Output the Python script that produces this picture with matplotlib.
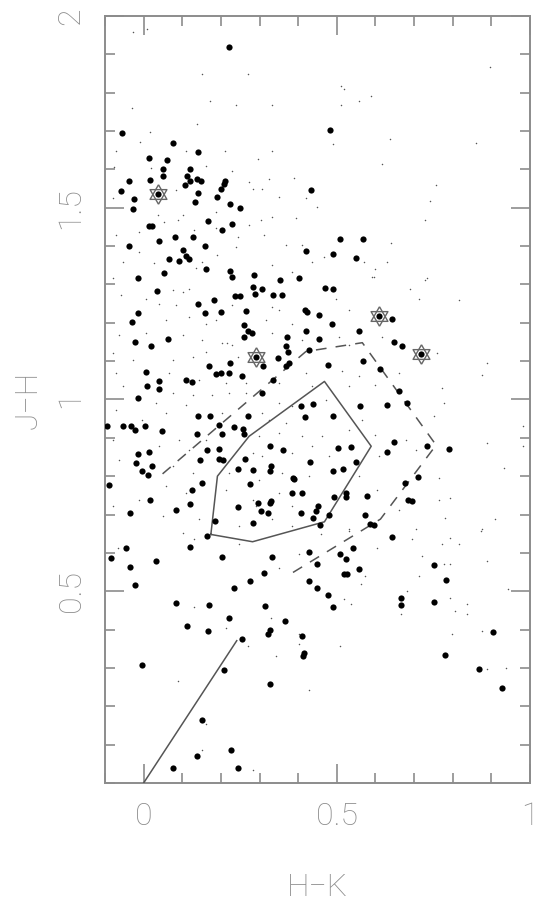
import matplotlib
matplotlib.use('Agg')
import matplotlib.pyplot as plt
from matplotlib.ticker import MultipleLocator, FixedLocator

plt.rcParams['font.family'] = ['Roboto', 'DejaVu Sans']

# big dots (H-K, J-H)
big_hk = [0.220, -0.056, 0.077, 0.141, 0.013, 0.061, 0.050, 0.120, 0.050, 0.111, -0.039, 0.017,
          0.121, 0.138, 0.148, 0.211, 0.209, 0.108, -0.059, 0.140, 0.200, 0.190, -0.025, 0.132,
          0.223, 0.249, -0.028, 0.432, 0.013, 0.022, 0.166, 0.230, 0.202, 0.082, 0.127, 0.040,
          -0.038, 0.160, 0.103, 0.109, 0.118, 0.065, 0.091, 0.421, 0.162, 0.052, 0.224, 0.230,
          0.285, -0.015, 0.353, 0.402,
          0.482, 0.508, 0.568, 0.489, 0.549,
          0.034, 0.284, 0.306, 0.287, 0.181, 0.237, 0.250, 0.334, 0.358, 0.140, -0.015, 0.158,
          0.200, 0.264, 0.418, 0.423, 0.454, -0.031, 0.260, 0.271, 0.281, 0.420, 0.260, -0.022,
          0.019, 0.062, 0.372, 0.368, 0.374, 0.429, 0.455, 0.309, 0.349, 0.368, 0.375, 0.224,
          0.170, 0.188, 0.200, 0.221, 0.255, 0.007, 0.009, 0.040, 0.040, 0.110, 0.125, 0.335,
          0.307, -0.015, 0.408, 0.439, 0.417, 0.140, 0.171, 0.270, -0.096, -0.053, -0.033, -0.022,
          0.004, 0.048, 0.195, 0.233, 0.258, 0.260, 0.203, 0.137, 0.328, 0.361, -0.015, 0.014,
          -0.020, 0.021, -0.004, 0.012, 0.163, 0.195, 0.195, 0.206, 0.146, 0.262, 0.244, 0.282,
          0.330, 0.328, 0.430, 0.387, 0.389, -0.090, 0.152, 0.276, 0.384, 0.410, 0.126, 0.016,
          0.120, 0.085, 0.296, 0.330, 0.326, 0.303, 0.322, 0.243, 0.452, 0.408, 0.446, 0.438,
          0.456, -0.036, 0.185, 0.283, 0.165,
          0.469, 0.489, 0.642, 0.487, 0.558, 0.649, 0.668, 0.478, 0.567, 0.611, 0.660, 0.681,
          0.631, 0.561, 0.489, 0.504, 0.537, 0.550, 0.491, 0.516, 0.649, 0.631, 0.734, 0.790,
          0.709, 0.676, 0.683, 0.694, 0.523, 0.525, 0.579, 0.492, 0.480, 0.574, 0.585, 0.597,
          0.642,
          -0.045, -0.084, 0.119, 0.204, 0.032, 0.333, 0.427, 0.450, -0.036, 0.312, 0.276, 0.234,
          0.427, 0.448, -0.023, 0.084, 0.170, 0.313, 0.221, 0.366, 0.111, 0.167, 0.328, 0.323,
          0.410, 0.254, 0.416, 0.412, -0.003, 0.209, 0.327, 0.152, 0.225, 0.137, 0.075, 0.244,
          0.507, 0.543, 0.525, 0.518, 0.527, 0.558, 0.478, 0.489, 0.667, 0.665, 0.752, 0.782,
          0.751, 0.905, 0.781, 0.867, 0.928]
big_jh = [1.919, 1.694, 1.670, 1.645, 1.630, 1.625, 1.600, 1.600, 1.582, 1.583, 1.569, 1.572,
          1.569, 1.574, 1.569, 1.569, 1.561, 1.560, 1.543, 1.539, 1.549, 1.529, 1.523, 1.514,
          1.510, 1.498, 1.497, 1.547, 1.453, 1.453, 1.465, 1.458, 1.442, 1.423, 1.424, 1.412,
          1.401, 1.399, 1.389, 1.374, 1.367, 1.366, 1.360, 1.388, 1.341, 1.331, 1.336, 1.320,
          1.324, 1.316, 1.312, 1.317,
          1.702, 1.419, 1.419, 1.379, 1.369,
          1.284, 1.293, 1.289, 1.276, 1.260, 1.270, 1.271, 1.272, 1.272, 1.248, 1.225, 1.225,
          1.227, 1.231, 1.232, 1.228, 1.219, 1.203, 1.193, 1.179, 1.174, 1.179, 1.162, 1.151,
          1.140, 1.157, 1.162, 1.139, 1.124, 1.129, 1.158, 1.088, 1.108, 1.087, 1.094, 1.094,
          1.086, 1.066, 1.069, 1.069, 1.062, 1.071, 1.035, 1.047, 1.027, 1.050, 1.045, 1.051,
          1.018, 1.005, 0.982, 0.989, 0.953, 0.958, 0.958, 0.958, 0.932, 0.931, 0.931, 0.920,
          0.932, 0.918, 0.933, 0.928, 0.923, 0.910, 0.910, 0.910, 0.879, 0.869, 0.858, 0.864,
          0.834, 0.826, 0.814, 0.803, 0.868, 0.871, 0.846, 0.841, 0.841, 0.844, 0.819, 0.815,
          0.827, 0.813, 0.838, 0.796, 0.792, 0.778, 0.782, 0.780, 0.756, 0.757, 0.765, 0.739,
          0.728, 0.711, 0.729, 0.736, 0.730, 0.709, 0.704, 0.719, 0.723, 0.704, 0.708, 0.690,
          0.672, 0.704, 0.683, 0.678, 0.644,
          1.290, 1.289, 1.211, 1.198, 1.178, 1.149, 1.139, 1.091, 1.101, 1.080, 1.022, 0.992,
          0.985, 0.984, 0.958, 0.873, 0.876, 0.838, 0.813, 0.818, 0.888, 0.863, 0.879, 0.870,
          0.798, 0.782, 0.737, 0.736, 0.756, 0.745, 0.748, 0.745, 0.698, 0.700, 0.675, 0.672,
          0.642,
          0.613, 0.586, 0.614, 0.589, 0.578, 0.588, 0.601, 0.570, 0.563, 0.548, 0.527, 0.508,
          0.526, 0.508, 0.517, 0.469, 0.465, 0.462, 0.431, 0.423, 0.409, 0.397, 0.398, 0.389,
          0.383, 0.375, 0.338, 0.330, 0.308, 0.295, 0.258, 0.165, 0.085, 0.071, 0.039, 0.040,
          0.597, 0.613, 0.583, 0.545, 0.545, 0.559, 0.491, 0.458, 0.483, 0.465, 0.569, 0.529,
          0.473, 0.393, 0.334, 0.297, 0.247]

# star-marked objects
star_hk = [0.036, 0.290, 0.609, 0.719]
star_jh = [1.537, 1.110, 1.218, 1.118]

# faint field stars
small_hk = [-0.028, 0.009, 0.152, 0.270, 0.171, 0.239, 0.331, -0.029, 0.138, 0.017, -0.010, 0.210,
            0.331, 0.295, -0.072, 0.109, -0.076, 0.019, 0.161, 0.230, 0.389, 0.325, 0.273, 0.282,
            0.307, 0.083, -0.080, 0.350, 0.420, 0.450, 0.036, 0.088, 0.101, 0.187, 0.333, 0.303,
            0.273, 0.394, -0.072, -0.011, 0.053, 0.131, 0.187, 0.243, 0.312, 0.368, 0.411, 0.437,
            -0.011, -0.054, 0.152, 0.191, 0.238, 0.333, 0.385, -0.080, 0.027, 0.135,
            0.510, 0.518, 0.557, 0.589, 0.510, 0.897, 0.637, 0.491, 0.859, 0.618, 0.758, 0.740,
            0.729, 0.639, 0.467, 0.570, 0.631, 0.598, 0.596, 0.734,
            -0.059, 0.006, 0.075, 0.101, 0.118, 0.040, 0.083, 0.230, 0.333, 0.350, 0.058, 0.118,
            0.161, 0.187, 0.316, 0.385, -0.063, 0.006, 0.101, 0.152, 0.204, 0.217, 0.230, 0.333,
            0.411, -0.080, -0.028, 0.075, 0.127, 0.161, 0.243, -0.072, 0.066, 0.144, 0.213, 0.264,
            0.350, 0.420, 0.437, -0.054, 0.075, 0.127, 0.178, 0.221, 0.264, 0.032, 0.109, 0.350,
            0.385, -0.072, 0.058, 0.204, 0.307, 0.325, 0.368, -0.003, -0.080, 0.092, 0.161, 0.299,
            0.350, 0.411, 0.040, 0.118, 0.282, 0.307, 0.385, 0.437, -0.063, 0.075, 0.127, 0.221,
            0.299, 0.359, 0.428, 0.058, 0.109, 0.213, 0.282, 0.290, 0.350, 0.385, -0.011, -0.080,
            0.049, 0.144, 0.247, 0.333, 0.385, 0.101,
            0.592, 0.729, 0.690, 0.815, 0.712, 0.497, 0.531, 0.505, 0.531, 0.617, 0.760, 0.889,
            0.876, 0.660, 0.514, 0.557, 0.773, 0.531, 0.600, 0.471, 0.777, 0.566, 0.751, 0.462,
            0.531, 0.600, 0.678, 0.983, 0.889, 0.983, 0.609, 0.704, 0.480, 0.557, 0.605, 0.932,
            0.764, 0.794, 0.764, 0.910, 0.876, 0.531, 0.704, 0.781, 0.660,
            -0.067, 0.131, 0.247, 0.402, 0.350, 0.131, 0.213, 0.329, 0.402, 0.402, 0.269, 0.342,
            0.088, 0.428, 0.161, 0.152, 0.282,
            0.531, 0.458, 0.605, 0.695, 0.773, 0.794, 0.815, 0.872, 0.721, 0.777, 0.794, 0.889,
            0.712, 0.573, 0.562, 0.682, 0.794, 0.837, 0.805, 0.837, 0.944, 0.536, 0.518, 0.665,
            0.798, 0.876, 0.507, 0.889, 0.938]
small_jh = [1.959, 1.965, 1.848, 1.848, 1.779, 1.768, 1.768, 1.759, 1.719, 1.697, 1.671, 1.649,
            1.647, 1.628, 1.649, 1.649, 1.606, 1.603, 1.610, 1.597, 1.578, 1.576, 1.567, 1.550,
            1.550, 1.545, 1.524, 1.528, 1.524, 1.502, 1.481, 1.468, 1.481, 1.489, 1.476, 1.468,
            1.455, 1.472, 1.429, 1.437, 1.463, 1.442, 1.446, 1.424, 1.430, 1.403, 1.403, 1.359,
            1.385, 1.359, 1.359, 1.377, 1.398, 1.351, 1.333, 1.316, 1.355, 1.342,
            1.818, 1.810, 1.779, 1.790, 1.768, 1.868, 1.678, 1.665, 1.669, 1.613, 1.558, 1.517,
            1.469, 1.408, 1.371, 1.358, 1.359, 1.340, 1.320, 1.316,
            1.272, 1.263, 1.285, 1.280, 1.289, 1.250, 1.246, 1.246, 1.241, 1.233, 1.207, 1.215,
            1.198, 1.207, 1.207, 1.198, 1.168, 1.172, 1.168, 1.155, 1.146, 1.146, 1.142, 1.172,
            1.155, 1.120, 1.103, 1.103, 1.112, 1.125, 1.112, 1.068, 1.068, 1.051, 1.042, 1.042,
            1.042, 1.068, 1.034, 1.034, 1.016, 1.012, 1.012, 1.016, 1.016, 0.990, 0.986, 0.990,
            0.982, 0.973, 0.964, 0.964, 0.964, 0.947, 0.938, 0.947, 0.895, 0.895, 0.895, 0.904,
            0.912, 0.904, 0.878, 0.869, 0.860, 0.852, 0.860, 0.878, 0.843, 0.826, 0.809, 0.809,
            0.791, 0.809, 0.800, 0.774, 0.757, 0.765, 0.739, 0.722, 0.757, 0.722, 0.739, 0.722,
            0.696, 0.687, 0.670, 0.687, 0.670, 0.653,
            1.319, 1.312, 1.289, 1.259, 1.263, 1.263, 1.233, 1.164, 1.142, 1.164, 1.120, 1.096,
            1.064, 1.068, 1.073, 1.060, 1.029, 1.034, 1.038, 0.999, 0.990, 0.947, 0.956, 0.904,
            0.921, 0.908, 0.895, 0.930, 0.886, 0.878, 0.852, 0.869, 0.852, 0.800, 0.765, 0.822,
            0.796, 0.744, 0.739, 0.687, 0.661, 0.661, 0.661, 0.692, 0.713,
            0.613, 0.635, 0.622, 0.596, 0.561, 0.460, 0.405, 0.431, 0.388, 0.362, 0.358, 0.332,
            0.265, 0.243, 0.154, 0.087, 0.033,
            0.656, 0.648, 0.613, 0.635, 0.622, 0.639, 0.622, 0.656, 0.591, 0.570, 0.570, 0.578,
            0.539, 0.539, 0.518, 0.501, 0.481, 0.466, 0.449, 0.440, 0.505, 0.466, 0.479, 0.440,
            0.388, 0.397, 0.358, 0.297, 0.301]

# solid locus (closed)
locus_hk = [0.174, 0.191, 0.273, 0.468, 0.589, 0.468, 0.282, 0.174]
locus_jh = [0.648, 0.800, 0.904, 1.047, 0.878, 0.681, 0.629, 0.648]

# dashed boundary
dash_hk = [0.049, 0.420, 0.566, 0.757, 0.613, 0.372]
dash_jh = [0.806, 1.125, 1.148, 0.881, 0.688, 0.540]

# reddening line
vec_hk = [0.0, 0.241]
vec_jh = [0.0, 0.371]

grey = '#8c8c8c'

# triangles centred on their centroid -> together a hexagram
tri_up = [(0, 1), (-0.866, -0.5), (0.866, -0.5), (0, 1)]
tri_dn = [(0, -1), (-0.866, 0.5), (0.866, 0.5), (0, -1)]

fig = plt.figure(figsize=(5.6, 9.06), dpi=100)
ax = fig.add_axes([0.1875, 0.1358, 0.7589, 0.8466])

ax.scatter(small_hk, small_jh, s=1.2, color='#555555', linewidths=0, zorder=2)
ax.plot(locus_hk, locus_jh, color='#555555', lw=1.1, zorder=3)
ax.plot(dash_hk, dash_jh, color='#555555', lw=1.1, dashes=(7, 6), zorder=3)
ax.plot(vec_hk, vec_jh, color='#555555', lw=1.1, zorder=3)
ax.scatter(big_hk, big_jh, s=20, color='black', linewidths=0, zorder=4)
ax.plot(star_hk, star_jh, ls='none', marker=tri_up, ms=14, mfc='none', mec='#666666', mew=1.0, zorder=5)
ax.plot(star_hk, star_jh, ls='none', marker=tri_dn, ms=14, mfc='none', mec='#666666', mew=1.0, zorder=5)
ax.scatter(star_hk, star_jh, s=20, color='black', linewidths=0, zorder=6)

ax.set_xlim(-0.1, 1.0)
ax.set_ylim(0, 2)

ax.xaxis.set_major_locator(FixedLocator([0, 0.5, 1.0]))
ax.xaxis.set_minor_locator(MultipleLocator(0.1))
ax.yaxis.set_major_locator(FixedLocator([0.5, 1.0, 1.5, 2.0]))
ax.yaxis.set_minor_locator(MultipleLocator(0.1))
ax.set_xticklabels(['0', '0.5', '1'])
ax.set_yticklabels(['0.5', '1', '1.5', '2'], rotation=90, va='center')

ax.tick_params(which='both', direction='in', top=True, right=True, color=grey, width=1.2)
ax.tick_params(which='major', length=14, labelsize=23, labelcolor=grey, pad=14)
ax.tick_params(which='minor', length=7)
for lab in ax.get_xticklabels() + ax.get_yticklabels():
    lab.set_fontweight('light')
for sp in ax.spines.values():
    sp.set_color(grey)
    sp.set_linewidth(1.4)

ax.set_xlabel('H\u2212K', fontsize=23, color=grey, fontweight='light', labelpad=30)
ax.set_ylabel('J\u2212H', fontsize=23, color=grey, fontweight='light', labelpad=10)

fig.savefig('out.png', dpi=100, facecolor='white')
